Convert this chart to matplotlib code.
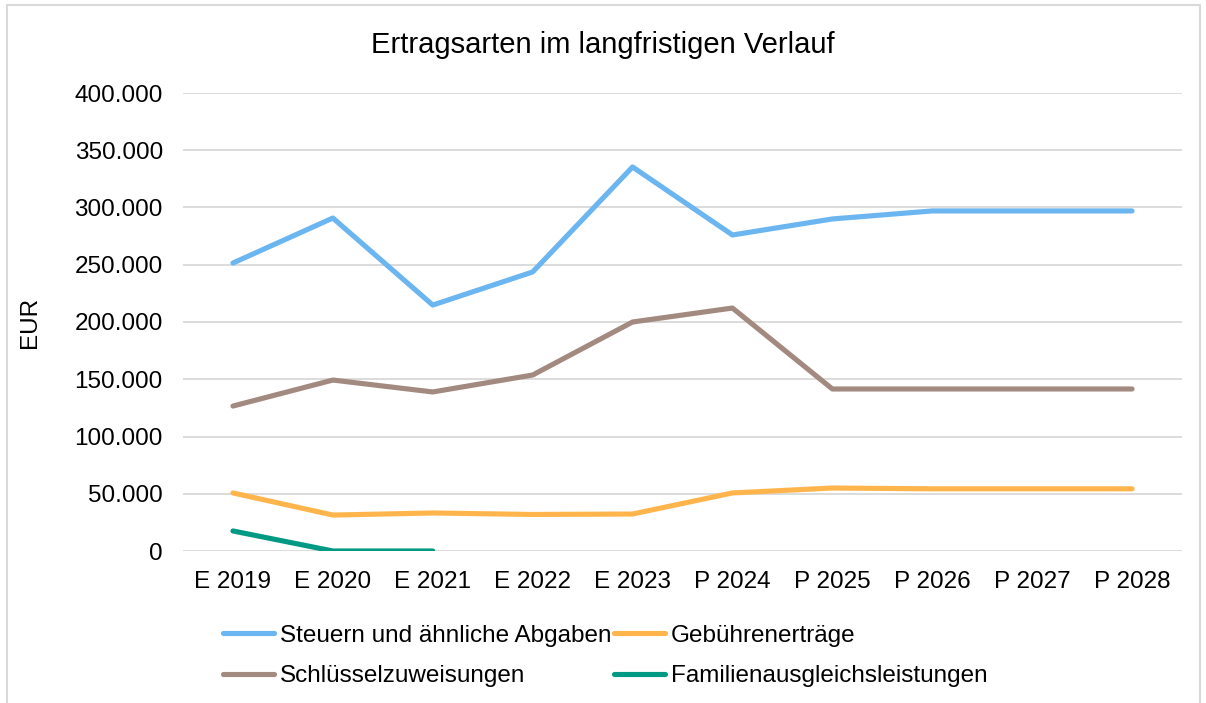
import matplotlib.pyplot as plt
from matplotlib.patches import Rectangle
from matplotlib.ticker import FuncFormatter

plt.rcParams['font.family'] = ['Liberation Sans', 'DejaVu Sans']

years = ['E 2019', 'E 2020', 'E 2021', 'E 2022', 'E 2023',
         'P 2024', 'P 2025', 'P 2026', 'P 2027', 'P 2028']

steuern = [251500, 290800, 214800, 243700, 335400, 276000, 290000, 297000, 297000, 297000]
gebuehren = [50700, 31400, 33200, 31900, 32300, 50700, 55000, 54300, 54300, 54300]
schluessel = [126600, 149300, 138900, 153700, 200000, 212200, 141500, 141500, 141500, 141500]
familien = [17500, 0, 0]

fig = plt.figure(figsize=(12.06, 7.03), dpi=100)
ax = fig.add_axes([183 / 1206, 1 - 551 / 703, 999 / 1206, 458 / 703])

# light grey frame round the whole chart
fig.patches.append(Rectangle((7 / 1206, -0.01), 1193 / 1206, 1 - 5 / 703 + 0.01,
                             transform=fig.transFigure, fill=False,
                             edgecolor='#D9D9D9', linewidth=1.5))

x = range(len(years))
lw = 3.7
l1, = ax.plot(x, steuern, color='#6BB5F0', lw=lw, solid_capstyle='round', label='Steuern und ähnliche Abgaben')
l2, = ax.plot(x, gebuehren, color='#FFB54C', lw=lw, solid_capstyle='round', label='Gebührenerträge')
l3, = ax.plot(x, schluessel, color='#A38A80', lw=lw, solid_capstyle='round', label='Schlüsselzuweisungen')
l4, = ax.plot(range(len(familien)), familien, color='#009A84', lw=lw, solid_capstyle='round',
              label='Familienausgleichsleistungen')

ax.set_xlim(-0.5, 9.5)
ax.set_ylim(0, 400000)
ax.set_yticks(range(0, 400001, 50000))
ax.yaxis.set_major_formatter(FuncFormatter(lambda v, p: f'{int(v):,}'.replace(',', '.')))
ax.set_xticks(list(x))
ax.set_xticklabels(years)
ax.tick_params(length=0, labelsize=17.5)
ax.tick_params(axis='x', pad=14.5)
ax.tick_params(axis='y', pad=14.5)
ax.grid(axis='y', color='#D9D9D9', lw=1.3)
ax.set_axisbelow(True)
for s in ax.spines.values():
    s.set_visible(False)

ax.set_ylabel('EUR', fontsize=17.5)
ax.yaxis.set_label_coords(-0.142, 0.5)
fig.text(0.5, 1 - 45 / 703, 'Ertragsarten im langfristigen Verlauf', ha='center', va='center', fontsize=21)

fig.legend(handles=[l1, l3, l2, l4], ncol=2, loc='upper left',
           bbox_to_anchor=(201 / 1206, 1 - 603 / 703), frameon=False, fontsize=17.5,
           handlelength=2.1, handletextpad=0.25, columnspacing=0.1, labelspacing=0.75)

fig.savefig('out.png', dpi=100)
